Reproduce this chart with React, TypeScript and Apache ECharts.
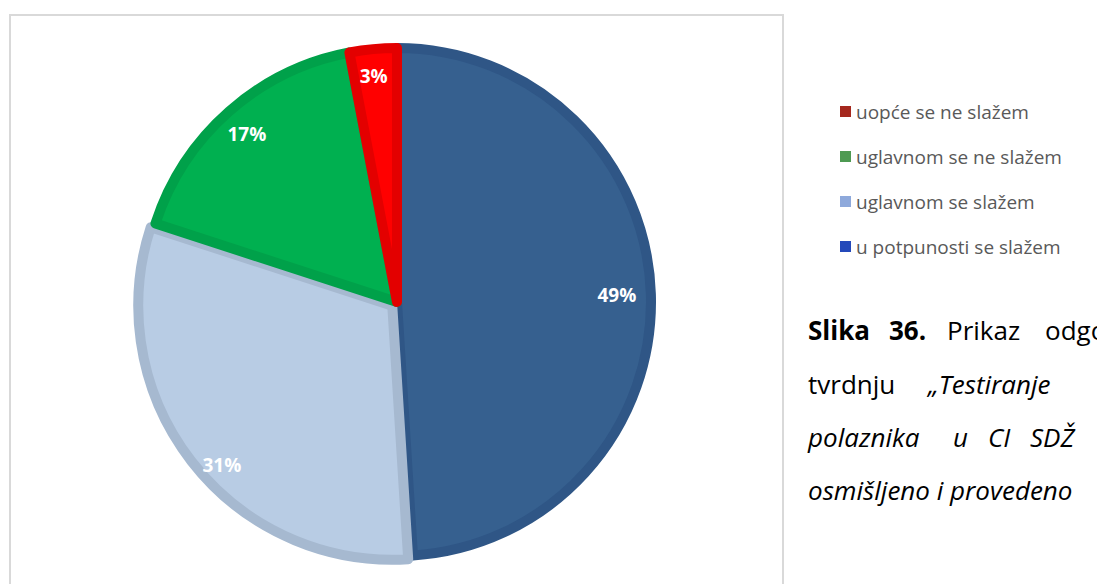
import React, { useEffect, useRef } from "react";
import * as echarts from "echarts";

const categories = [
  "u potpunosti se slažem",
  "uglavnom se slažem",
  "uglavnom se ne slažem",
  "uopće se ne slažem",
];
const values = [49, 31, 17, 3];
const sliceColors = ["#36608F", "#B8CCE4", "#00B050", "#FF0000"];
const sliceBorders = ["#2F5686", "#A6B9D0", "#00A14A", "#E30000"];
const legendOrder = [
  "uopće se ne slažem",
  "uglavnom se ne slažem",
  "uglavnom se slažem",
  "u potpunosti se slažem",
];
const legendColors = ["#A5281E", "#4E9A52", "#8EA9DB", "#2449BA"];

const captionWords: { t: string; x: number; y: number; bold?: boolean; italic?: boolean }[] = [
  { t: "Slika", x: 808, y: 330, bold: true },
  { t: "36.", x: 889, y: 330, bold: true },
  { t: "Prikaz", x: 947, y: 330 },
  { t: "odgovora", x: 1045, y: 330 },
  { t: "tvrdnju", x: 808, y: 384 },
  { t: "„Testiranje", x: 928, y: 384, italic: true },
  { t: "polaznika", x: 808, y: 437, italic: true },
  { t: "u", x: 953, y: 437, italic: true },
  { t: "CI", x: 988, y: 437, italic: true },
  { t: "SDŽ", x: 1030, y: 437, italic: true },
  { t: "osmišljeno i provedeno", x: 808, y: 490, italic: true },
];

const labelNudge: [number, number][] = [[-7, 0], [9, 20], [0, 2], [-2, 0]];

export default function App() {
  const ref = useRef<HTMLDivElement>(null);
  useEffect(() => {
    const chart = echarts.init(ref.current!, null, { renderer: "svg" });
    const data = categories.map((name, i) => ({
      name,
      value: values[i],
      selected: i === 1,
      itemStyle: { color: sliceColors[i], borderColor: sliceBorders[i], borderWidth: 10 },
    }));
    const labelData = categories.map((name, i) => ({
      name,
      value: values[i],
      selected: i === 1,
    }));
    chart.setOption({
      animation: false,
      backgroundColor: "#ffffff",
      legend: {
        orient: "vertical",
        left: 835,
        top: 97,
        itemWidth: 11,
        itemHeight: 11,
        itemGap: 26,
        icon: "rect",
        selectedMode: false,
        textStyle: { fontSize: 19, color: "#595959", fontFamily: "Open Sans" },
        data: legendOrder.map((name, i) => ({ name, itemStyle: { color: legendColors[i], borderWidth: 0 } })),
      },
      graphic: [
        {
          type: "rect",
          shape: { x: 10, y: 15, width: 773, height: 620 },
          style: { fill: "none", stroke: "#d9d9d9", lineWidth: 2 },
          silent: true,
        },
        ...captionWords.map((w) => ({
          type: "text",
          x: w.x,
          y: w.y,
          style: {
            text: w.t,
            fill: "#000000",
            fontSize: 26,
            fontFamily: "Open Sans",
            fontWeight: w.bold ? "bold" : "normal",
            fontStyle: w.italic ? "italic" : "normal",
            verticalAlign: "middle",
          },
        })),
      ],
      series: [
        {
          type: "pie",
          center: [397, 302],
          radius: 254,
          startAngle: 90,
          clockwise: true,
          selectedMode: "single",
          selectedOffset: 6,
          label: { show: false },
          labelLine: { show: false },
          emphasis: { disabled: true },
          data,
        },
        {
          type: "pie",
          center: [397, 302],
          radius: [192, 256],
          startAngle: 90,
          clockwise: true,
          selectedMode: "single",
          selectedOffset: 6,
          silent: true,
          itemStyle: { color: "rgba(0,0,0,0)" },
          label: {
            show: true,
            position: "inside",
            formatter: "{c}%",
            color: "#ffffff",
            fontSize: 19,
            fontWeight: "bold",
            fontFamily: "Open Sans",
          },
          labelLayout: (p: any) => ({ dx: labelNudge[p.dataIndex][0], dy: labelNudge[p.dataIndex][1] }),
          labelLine: { show: false },
          emphasis: { disabled: true },
          data: labelData,
        },
      ],
    });
    return () => chart.dispose();
  }, []);
  return (
    <div
      ref={ref}
      style={{ position: "fixed", left: 0, top: 0, width: 1097, height: 584 }}
    />
  );
}
